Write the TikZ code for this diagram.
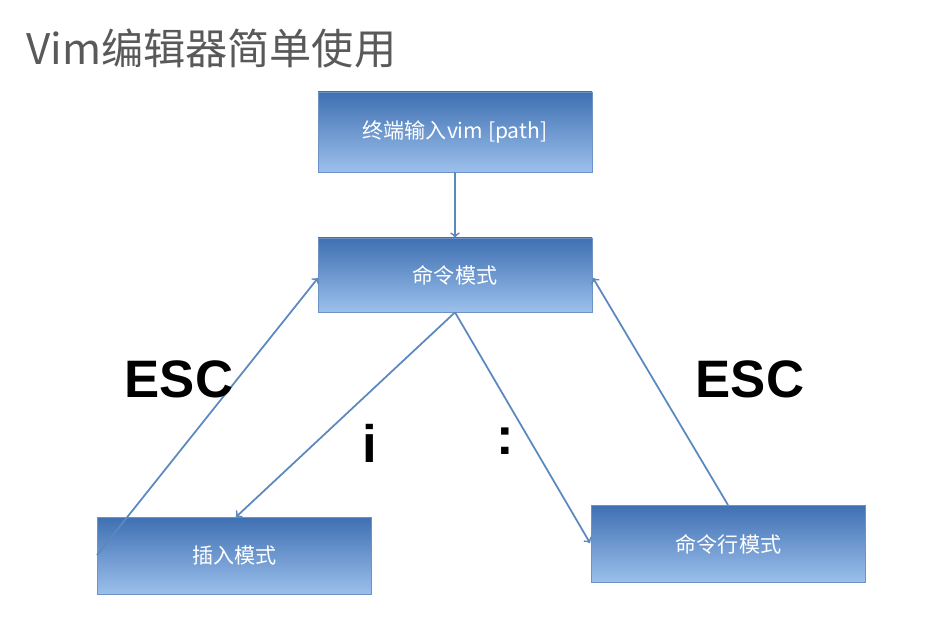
\documentclass[tikz,border=0pt]{standalone}
\usepackage{fontspec}
\setmainfont{Liberation Sans}
\newfontfamily\cjk{Noto Sans CJK SC}
\usetikzlibrary{shapes}
\definecolor{boxtop}{HTML}{3F70B2}
\definecolor{boxbot}{HTML}{9CC0EC}
\definecolor{boxline}{HTML}{6C93C4}
\definecolor{linkblue}{HTML}{5B88BF}

\begin{document}
\begin{tikzpicture}
    \tikzset{mode/.style={draw=boxline,rectangle,minimum width=5.48cm,minimum height=1.55cm,top color=boxtop,bottom color=boxbot,text=white,font=\cjk\fontsize{12}{14}\selectfont}}
    \tikzstyle{fleche}=[->,>=to,line width=0.35mm,color=linkblue]
    \tikzstyle{key}=[font=\bfseries\fontsize{30}{34}\selectfont]
    \useasboundingbox (0,0) rectangle (18.76,12.56);
    \node[anchor=west,text=black!65,font=\cjk\fontsize{24}{28}\selectfont] (TITLE) at (0.4,11.6) {Vim编辑器简单使用};

    \node[mode,minimum height=1.6cm] (START) at (9.1,9.92) {终端输入vim [path]};
    \node[mode,minimum height=1.48cm] (CMD) at (9.1,7.06) {命令模式};
    \node[mode] (INS) at (4.69,1.44) {插入模式};
    \node[mode] (LINE) at (14.57,1.68) {命令行模式};
    \draw[fleche] (START)--(CMD);
    \draw[fleche] (CMD.south)--(4.72,2.22);
    \draw[fleche] (CMD.south)--(11.8,1.7);
    \draw[fleche] (1.94,1.46)--(6.36,7.0);
    \draw[fleche] (14.56,2.46)--(11.86,7.0);

    \node[key] (ESCL) at (3.58,4.98) {ESC};
    \node[key] (ESCR) at (15.0,4.98) {ESC};
    \node[key] (KI) at (7.4,3.7) {i};
    \node[key] (KC) at (10.1,3.74) {:};
\end{tikzpicture}
\end{document}
